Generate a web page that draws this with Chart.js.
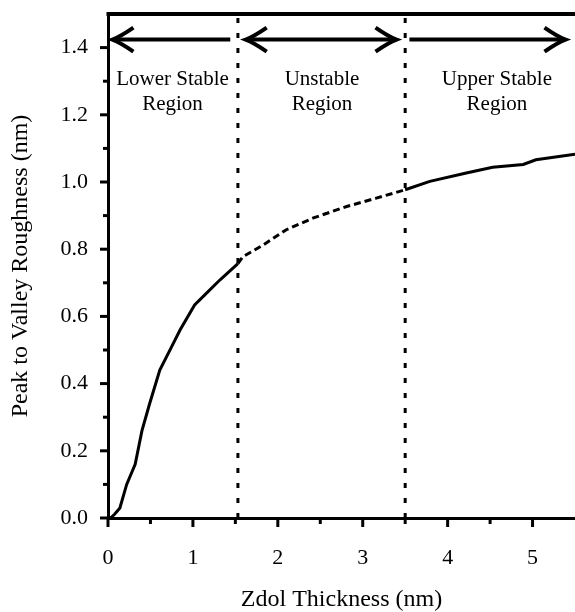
<!DOCTYPE html>
<html>
<head>
<meta charset="utf-8">
<script src="https://cdn.jsdelivr.net/npm/chart.js@4.4.1/dist/chart.umd.min.js"></script>
<style>
  html, body { margin: 0; padding: 0; background: #fff; }
  #wrap { width: 575px; height: 612px; }
</style>
</head>
<body>
<div id="wrap"><canvas id="chart"></canvas></div>
<script>
// curve
const thickness = [0.03, 0.08, 0.14, 0.22, 0.32, 0.40, 0.49, 0.61, 0.75, 0.85, 1.02, 1.14, 1.32, 1.53,
    1.59, 1.83, 2.10, 2.42, 2.81, 3.16, 3.50, 3.79, 4.22, 4.53, 4.89, 5.04, 5.50];
const roughness = [0.0, 0.012, 0.03, 0.10, 0.16, 0.26, 0.34, 0.44, 0.51, 0.56, 0.634, 0.664, 0.709, 0.757,
    0.778, 0.813, 0.858, 0.893, 0.927, 0.952, 0.977, 1.002, 1.027, 1.044, 1.052, 1.066, 1.083];

// region boundaries and annotations
const regionEdges = [1.53, 3.5];
const regionNames = [['Lower Stable', 'Region'], ['Unstable', 'Region'], ['Upper Stable', 'Region']];
const regionLabelX = [0.76, 2.52, 4.58];
const regionLabelY = [1.305, 1.23];
const arrowY = 1.424;
const arrowStart = [1.44, 1.61, 3.55];
const arrowEnd = [0.04, 3.41, 5.40];
const arrowHeadAtStart = [false, true, false];

const xMax = 5.5, yMax = 1.5;
const serif = '"Liberation Serif", "Times New Roman", serif';

function isMajor(v, step) {
    return Math.abs(v / step - Math.round(v / step)) < 1e-6;
}

function noPadding(s) {
    s.paddingTop = 0;
    s.paddingBottom = 0;
    s.paddingLeft = 0;
    s.paddingRight = 0;
}

function drawHead(ctx, tipX, y, dir) {
    // dir = -1 points left, 1 points right
    ctx.beginPath();
    ctx.moveTo(tipX - dir * 21, y - 12);
    ctx.quadraticCurveTo(tipX - dir * 8, y - 3, tipX, y);
    ctx.quadraticCurveTo(tipX - dir * 8, y + 3, tipX - dir * 21, y + 12);
    ctx.stroke();
}

const decorations = {
    id: 'decorations',
    afterDraw(chart) {
        const ctx = chart.ctx;
        const xs = chart.scales.x, ys = chart.scales.y;
        const area = chart.chartArea;
        ctx.save();
        ctx.strokeStyle = '#000';
        ctx.fillStyle = '#000';
        ctx.lineCap = 'butt';

        // tick marks, pointing outward
        ctx.lineWidth = 3;
        ys.ticks.forEach(t => {
            if (t.value >= yMax - 1e-6) return;
            const py = ys.getPixelForValue(t.value);
            const len = isMajor(t.value, 0.2) ? 8 : 5;
            ctx.beginPath();
            ctx.moveTo(area.left - len, py);
            ctx.lineTo(area.left, py);
            ctx.stroke();
        });
        xs.ticks.forEach(t => {
            if (t.value >= xMax - 1e-6) return;
            const px = xs.getPixelForValue(t.value);
            const len = isMajor(t.value, 1) ? 9 : 6;
            ctx.beginPath();
            ctx.moveTo(px, area.bottom);
            ctx.lineTo(px, area.bottom + len);
            ctx.stroke();
        });

        // top frame line
        ctx.lineWidth = 4;
        ctx.beginPath();
        ctx.moveTo(area.left - 1.5, area.top);
        ctx.lineTo(area.right, area.top);
        ctx.stroke();

        // arrows
        const ay = ys.getPixelForValue(arrowY);
        ctx.lineWidth = 4;
        arrowStart.forEach((x0, i) => {
            const p0 = xs.getPixelForValue(x0);
            const p1 = xs.getPixelForValue(arrowEnd[i]);
            const dir = p1 > p0 ? 1 : -1;
            ctx.beginPath();
            ctx.moveTo(p0 + (arrowHeadAtStart[i] ? dir * 4 : 0), ay);
            ctx.lineTo(p1 - dir * 4, ay);
            ctx.stroke();
            drawHead(ctx, p1 - dir * 1, ay, dir);
            if (arrowHeadAtStart[i]) drawHead(ctx, p0 + dir * 1, ay, -dir);
        });

        // region labels
        ctx.font = '21px ' + serif;
        ctx.textAlign = 'center';
        ctx.textBaseline = 'middle';
        regionNames.forEach((lines, i) => {
            const px = xs.getPixelForValue(regionLabelX[i]);
            lines.forEach((txt, j) => {
                ctx.fillText(txt, px, ys.getPixelForValue(regionLabelY[j]));
            });
        });
        ctx.restore();
    }
};

const curve = thickness.map((x, i) => ({ x: x, y: roughness[i] }));
const inUnstable = ctx => ctx.p0.parsed.x >= regionEdges[0] - 1e-6 && ctx.p1.parsed.x <= regionEdges[1] + 1e-6;

const edgeSets = regionEdges.map(x => ({
    data: [{ x: x, y: 0 }, { x: x, y: yMax }],
    borderColor: '#000',
    borderWidth: 3,
    borderDash: [5, 10],
    pointRadius: 0,
    showLine: true
}));

new Chart(document.getElementById('chart'), {
    type: 'scatter',
    data: {
        datasets: [{
            data: curve,
            borderColor: '#000',
            borderWidth: 3,
            pointRadius: 0,
            showLine: true,
            tension: 0,
            segment: {
                borderDash: ctx => inUnstable(ctx) ? [7, 4] : undefined
            }
        }].concat(edgeSets)
    },
    options: {
        responsive: true,
        maintainAspectRatio: false,
        animation: false,
        layout: { padding: { top: 14, right: 0, left: 0, bottom: 0 } },
        plugins: {
            legend: { display: false },
            tooltip: { enabled: false }
        },
        scales: {
            x: {
                type: 'linear',
                min: 0,
                max: xMax,
                afterFit: s => { s.height = 94; noPadding(s); },
                grid: { display: false, drawTicks: false },
                border: { display: true, color: '#000', width: 3 },
                ticks: {
                    stepSize: 0.5,
                    autoSkip: false,
                    maxRotation: 0,
                    padding: 27,
                    color: '#000',
                    font: { family: serif, size: 22 },
                    callback: v => isMajor(v, 1) && v < xMax ? String(v) : ''
                },
                title: {
                    display: true,
                    text: 'Zdol Thickness (nm)',
                    color: '#000',
                    font: { family: serif, size: 24 },
                    padding: { top: 0, bottom: -2 }
                }
            },
            y: {
                type: 'linear',
                min: 0,
                max: yMax,
                afterFit: s => { s.width = 108; noPadding(s); },
                grid: { display: false, drawTicks: false },
                border: { display: true, color: '#000', width: 3 },
                ticks: {
                    stepSize: 0.1,
                    autoSkip: false,
                    padding: 20,
                    color: '#000',
                    font: { family: serif, size: 22 },
                    callback: v => isMajor(v, 0.2) ? v.toFixed(1) : ''
                },
                title: {
                    display: true,
                    text: 'Peak to Valley Roughness (nm)',
                    color: '#000',
                    font: { family: serif, size: 24 },
                    padding: { top: 6, bottom: 0 }
                }
            }
        }
    },
    plugins: [decorations]
});
</script>
</body>
</html>
